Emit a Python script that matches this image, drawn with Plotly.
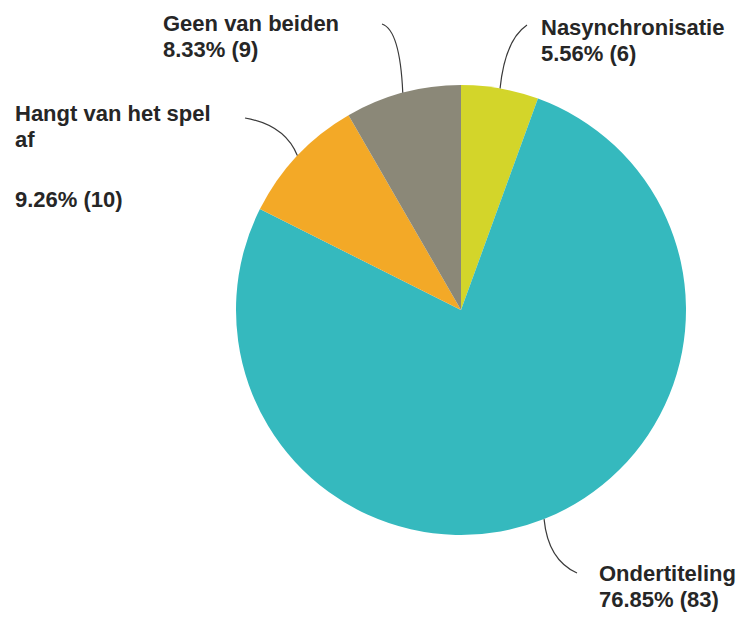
import math
import plotly.graph_objects as go

# ---- data ----
labels = ["Nasynchronisatie", "Ondertiteling", "Hangt van het spel af", "Geen van beiden"]
label_lines = [["Nasynchronisatie"], ["Ondertiteling"], ["Hangt van het spel", "af"], ["Geen van beiden"]]
counts = [6, 83, 10, 9]
colors = ["#d3d52a", "#35b9be", "#f3a927", "#8b8878"]

# ---- layout constants (pixels) ----
W, H = 752, 618
CX, CY, R = 461, 310, 225
BASE = 20            # sets line spacing (1.3 * 20 = 26 px)
GLYPH = 22           # visible glyph size
FONT = dict(family="Liberation Sans, Arial, sans-serif", size=BASE, color="#262626", weight="bold")
LINE_H = 1.3 * BASE

# label block placement: (left x, block centre y, separate value centre y or None,
#                         leader start x, y, control x, y)
label_pos = [
    (539, 40.5, None, 527, 25, 505, 40),
    (597, 586, None, 577, 573, 548, 560),
    (13, 126.5, 200, 245, 118, 285, 125),
    (161, 36.5, None, 382, 24, 400, 30),
]

total = sum(counts)
fig = go.Figure(go.Pie(
    labels=labels, values=counts, sort=False, direction="clockwise", rotation=0,
    marker=dict(colors=colors, line=dict(width=0)),
    textinfo="none", hoverinfo="label+percent+value", showlegend=False,
    domain=dict(x=[(CX - R) / W, (CX + R) / W], y=[(H - CY - R) / H, (H - CY + R) / H]),
))

def px(x):
    return x / W

def py(y):
    return 1 - y / H

def styled(lines):
    return "<br>".join(f'<span style="font-size:{GLYPH}px">{t}</span>' for t in lines)

def add_block(anns, lines, lx, center):
    anns.append(dict(text=styled(lines), x=px(lx), y=py(center), xref="paper", yref="paper",
                     xanchor="left", yanchor="middle", align="left", showarrow=False, font=FONT))

annotations = []
shapes = []
cum = 0
for i, c in enumerate(counts):
    mid = (cum + c / 2) / total * 2 * math.pi
    cum += c
    ex = CX + R * math.sin(mid)
    ey = CY - R * math.cos(mid)
    lx, cy, vy, sx, sy, qx, qy = label_pos[i]
    pct = f"{c / total * 100:.2f}% ({c})"
    lines = list(label_lines[i])
    if vy is not None:
        add_block(annotations, lines, lx, cy)
        add_block(annotations, [pct], lx, vy)
    else:
        add_block(annotations, lines + [pct], lx, cy)
    path = f"M {px(sx)},{py(sy)} Q {px(qx)},{py(qy)} {px(ex)},{py(ey)}"
    shapes.append(dict(type="path", path=path, xref="paper", yref="paper",
                       line=dict(color="#3a3a3a", width=1.2)))

fig.update_layout(
    width=W, height=H, margin=dict(l=0, r=0, t=0, b=0),
    paper_bgcolor="white", plot_bgcolor="white",
    annotations=annotations, shapes=shapes,
)

fig.write_html("out.html")
